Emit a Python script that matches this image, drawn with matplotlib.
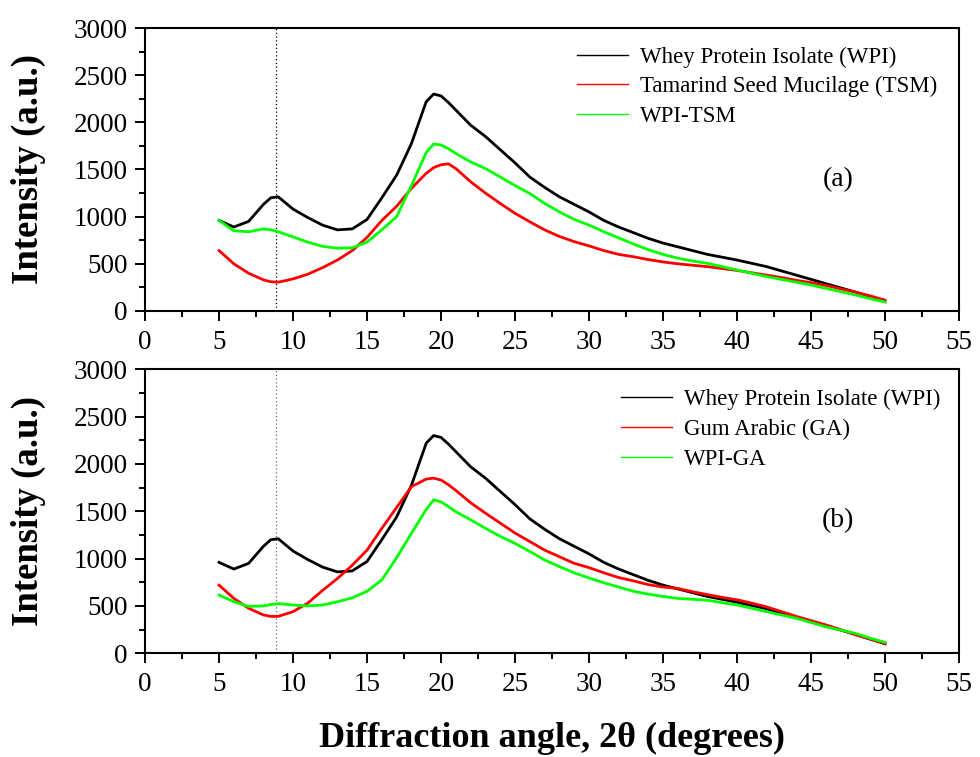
import matplotlib
matplotlib.use("Agg")
import matplotlib.pyplot as plt
from matplotlib.ticker import MultipleLocator

plt.rcParams['font.family'] = ['Liberation Serif', 'DejaVu Serif']

angle = [5, 6, 7, 8, 8.5, 9, 10, 11, 12, 13, 14, 15, 16, 17, 18, 19, 19.5, 20, 20.5,
         21, 22, 23, 24, 25, 26, 27, 28, 29, 30, 31, 32, 33, 34, 35, 36, 37, 38, 39,
         40, 41, 42, 43, 44, 45, 46, 47, 48, 49, 50]

wpi = [960, 890, 950, 1130, 1200, 1210, 1080, 990, 910, 860, 870, 970, 1200, 1440,
       1775, 2220, 2300, 2280, 2210, 2130, 1970, 1850, 1710, 1570, 1420, 1310, 1210,
       1130, 1050, 960, 890, 830, 770, 720, 680, 640, 600, 570, 540, 505, 470, 425,
       380, 335, 290, 245, 200, 150, 100]

tsm = [640, 500, 400, 330, 310, 305, 340, 390, 460, 540, 640, 780, 960, 1110, 1300,
       1460, 1520, 1550, 1560, 1510, 1370, 1250, 1140, 1035, 945, 860, 790, 735, 690,
       640, 600, 575, 545, 520, 500, 485, 470, 450, 430, 405, 380, 355, 325, 300, 270,
       235, 200, 160, 115]

wpi_tsm = [960, 850, 840, 870, 860, 840, 785, 730, 685, 665, 670, 730, 860, 1000,
           1330, 1680, 1770, 1760, 1720, 1670, 1580, 1510, 1420, 1330, 1245, 1140, 1050,
           970, 910, 840, 775, 710, 650, 600, 560, 530, 505, 470, 435, 400, 365, 335,
           305, 275, 240, 205, 170, 130, 95]

ga = [720, 580, 475, 405, 390, 390, 440, 530, 665, 790, 930, 1090, 1320, 1540, 1760,
      1840, 1850, 1830, 1780, 1720, 1590, 1480, 1375, 1270, 1180, 1090, 1020, 950, 905,
      850, 800, 765, 725, 700, 685, 650, 620, 590, 565, 530, 490, 440, 390, 345, 300,
      250, 195, 150, 105]

wpi_ga = [615, 545, 495, 500, 515, 525, 510, 500, 510, 545, 585, 655, 775, 1010, 1267,
          1520, 1620, 1600, 1550, 1495, 1410, 1320, 1235, 1160, 1075, 985, 915, 850,
          795, 745, 700, 655, 625, 600, 580, 570, 560, 535, 510, 475, 440, 405, 370,
          325, 280, 245, 210, 160, 115]

labels_a = ["Whey Protein Isolate (WPI)", "Tamarind Seed Mucilage (TSM)", "WPI-TSM"]
labels_b = ["Whey Protein Isolate (WPI)", "Gum Arabic (GA)", "WPI-GA"]
ref_angle = 8.85

fig = plt.figure(figsize=(9.8, 7.57), dpi=100)
ax1 = fig.add_axes([0.148, 0.5892, 0.8306, 0.3738])
ax2 = fig.add_axes([0.148, 0.1370, 0.8306, 0.3752])

lw = 2.0
for ax, series, labels, tag, tagy, dcol in [
        (ax1, [wpi, tsm, wpi_tsm], labels_a, "(a)", 0.463, "black"),
        (ax2, [wpi, ga, wpi_ga], labels_b, "(b)", 0.466, "#666666")]:
    ax.axvline(ref_angle, color=dcol, linestyle=(0, (1, 2)), linewidth=0.9, zorder=1)
    ax.plot(angle, series[0], color="black", lw=lw, label=labels[0], zorder=2)
    ax.plot(angle, series[1], color="#ff0000", lw=lw, label=labels[1], zorder=3)
    ax.plot(angle, series[2], color="#00ff00", lw=lw, label=labels[2], zorder=4)
    ax.set_xlim(0, 55)
    ax.set_ylim(0, 3000)
    ax.xaxis.set_major_locator(MultipleLocator(5))
    ax.xaxis.set_minor_locator(MultipleLocator(2.5))
    ax.yaxis.set_major_locator(MultipleLocator(500))
    ax.yaxis.set_minor_locator(MultipleLocator(250))
    ax.tick_params(which='major', direction='out', length=7.5, width=1.4,
                   labelsize=19.5, top=False, right=False)
    ax.tick_params(axis='x', which='major', pad=6)
    ax.tick_params(axis='y', which='major', pad=5)
    ax.tick_params(which='minor', direction='out', length=4, width=1.4,
                   top=False, right=False)
    for s in ax.spines.values():
        s.set_linewidth(1.5)
    ax.set_ylabel("Intensity (a.u.)", fontsize=26.5, fontweight='bold')
    ax.yaxis.set_label_coords(-0.122, 0.5)
    ax.text(0.851, tagy, tag, transform=ax.transAxes,
            fontsize=20, ha='center', va='center')

leg_kw = dict(loc='upper left', frameon=False, fontsize=16.5, handlelength=2.2,
              handletextpad=0.55, labelspacing=0.38, borderpad=0, borderaxespad=0)
leg1 = ax1.legend(bbox_to_anchor=(0.531, 0.935), **leg_kw)
leg2 = ax2.legend(bbox_to_anchor=(0.585, 0.93), **leg_kw)
for leg in (leg1, leg2):
    for h in leg.get_lines():
        h.set_linewidth(1.0)

fig.text(0.563, 0.0135, "Diffraction angle, 2\u03b8 (degrees)", fontsize=26,
         fontweight='bold', ha='center', va='baseline')

fig.savefig("out.png", dpi=100)
